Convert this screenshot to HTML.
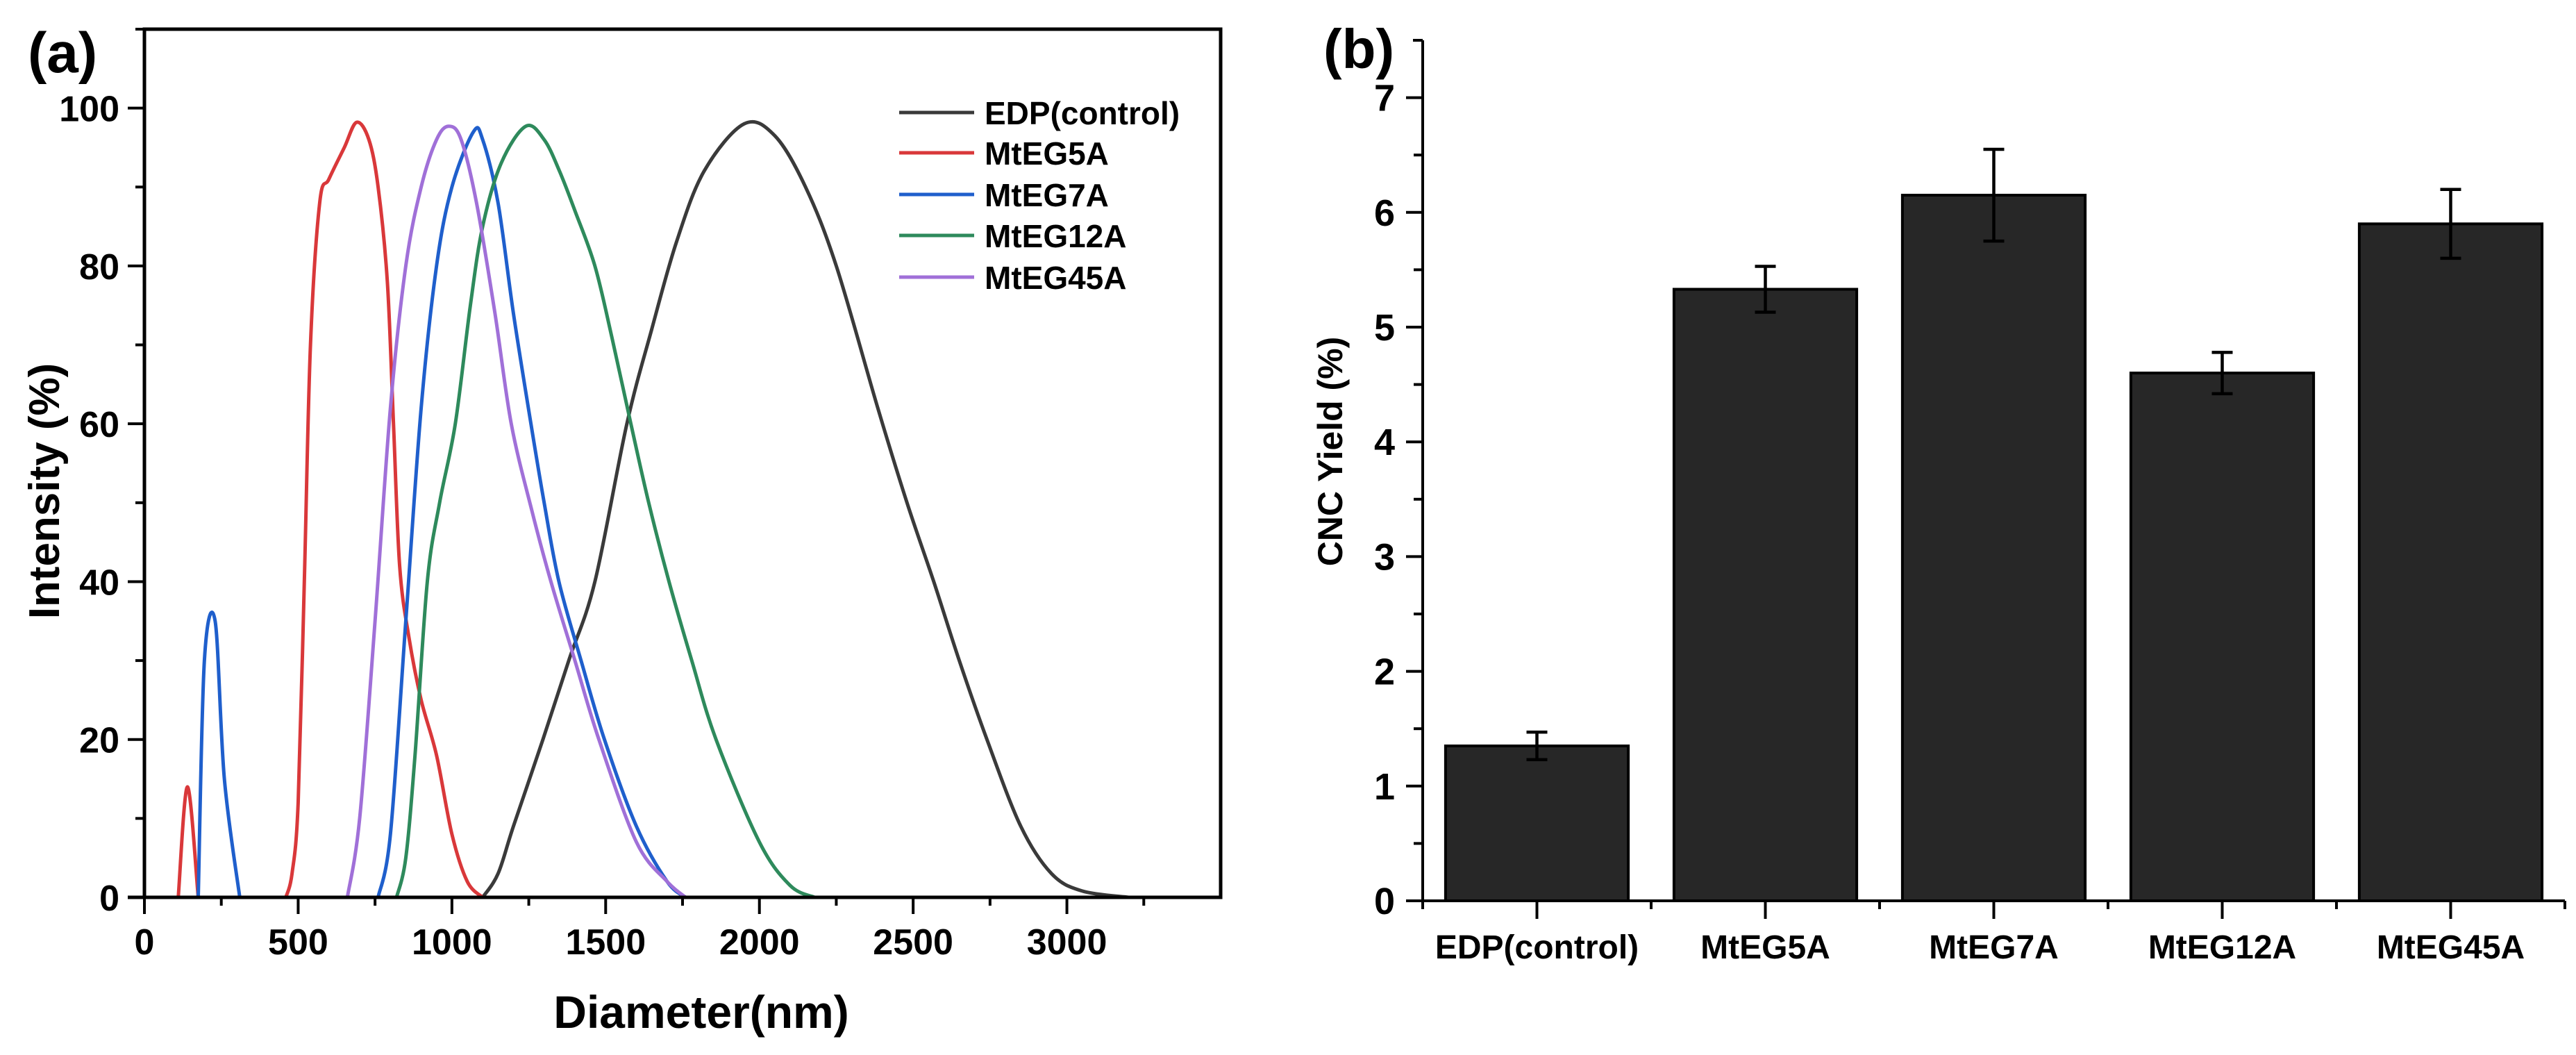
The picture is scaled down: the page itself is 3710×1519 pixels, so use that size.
<!DOCTYPE html>
<html><head><meta charset="utf-8">
<style>
html,body{margin:0;padding:0;background:#fff;}
svg{display:block;}
text{font-family:"Liberation Sans",Arial,sans-serif;font-weight:bold;fill:#000;}
</style></head>
<body>
<svg id="fig" width="3710" height="1519" viewBox="0 0 3710 1519" xmlns="http://www.w3.org/2000/svg">
  <g id="panelA"></g>
  <g id="panelB"></g>
</svg>
<script>
// ===== Panel (a) data =====
const seriesNames = ["EDP(control)","MtEG5A","MtEG7A","MtEG12A","MtEG45A"];
const seriesColors = ["#3a3a3a","#d9383a","#1f5fcc","#2e8a5c","#a070d8"];
const edpX = [1100,1150,1200,1296,1380,1465,1569,1650,1730,1820,1950,2050,2150,2250,2385,2480,2567,2650,2740,2850,2950,3050,3200];
const edpY = [0,3,9,20,30,40,60,72,83,92,98,96.5,90,80,62,50,40,30,20,9,3,0.8,0];
const eg5SpikeX = [110,140,175];
const eg5SpikeY = [0,14,0];
const eg5X = [460,480,500,520,540,570,600,650,690,730,760,790,810,830,860,900,950,1000,1050,1100];
const eg5Y = [0,3,12,40,70,88,91,95,98.2,96,90,78,60,42,33,25,18,8,2,0];
const eg7SpikeX = [175,195,230,260,310];
const eg7SpikeY = [0,30,35,15,0];
const eg7X = [760,800,850,900,950,1000,1070,1100,1150,1200,1257,1300,1348,1420,1496,1600,1700,1760];
const eg7Y = [0,8,35,62,80,90,97,96,88,74,60,50,40,30,20,9,2,0];
const eg12X = [820,850,880,920,960,1011,1060,1100,1160,1240,1300,1350,1400,1465,1520,1582,1640,1706,1780,1859,2000,2100,2180];
const eg12Y = [0,5,18,40,50,60,75,85,93,97.7,96,92,87,80,71,60,50,40,30,20,7,1.5,0];
const eg45X = [660,700,750,800,850,900,950,990,1030,1080,1140,1193,1260,1322,1400,1478,1600,1700,1760];
const eg45Y = [0,10,35,62,80,90,96,97.7,96,88,74,60,49,40,30,20,7,2,0];
const aXTicks = [0,500,1000,1500,2000,2500,3000];
const aYTicks = [0,20,40,60,80,100];

// ===== Panel (b) data =====
const categories = ["EDP(control)","MtEG5A","MtEG7A","MtEG12A","MtEG45A"];
const yieldValues = [1.35,5.33,6.15,4.60,5.90];
const yieldErrors = [0.12,0.20,0.40,0.18,0.30];
const bYTicks = [0,1,2,3,4,5,6,7];

const NS = "http://www.w3.org/2000/svg";
function mk(parent, tag, attrs, txt){
  const e = document.createElementNS(NS, tag);
  for (const k in attrs) e.setAttribute(k, attrs[k]);
  if (txt !== undefined) e.textContent = txt;
  parent.appendChild(e);
  return e;
}

// ---------- Panel A ----------
const A = document.getElementById('panelA');
const aL=208, aR=1758, aT=42, aB=1292;
const ax = v => aL + v*(aR-aL)/3500;
const ay = v => aB - v*(aB-aT)/110;

function smoothPath(xs, ys){
  const p = xs.map((x,i)=>[ax(x), ay(ys[i])]);
  let d = `M${p[0][0]},${p[0][1]}`;
  for (let i=0;i<p.length-1;i++){
    const p0=p[i-1]||p[i], p1=p[i], p2=p[i+1], p3=p[i+2]||p[i+1];
    let c1y = p1[1]+(p2[1]-p0[1])/6, c2y = p2[1]-(p3[1]-p1[1])/6;
    c1y = Math.min(c1y, aB); c2y = Math.min(c2y, aB);
    d += ` C${p1[0]+(p2[0]-p0[0])/6},${c1y} ${p2[0]-(p3[0]-p1[0])/6},${c2y} ${p2[0]},${p2[1]}`;
  }
  return d;
}

const curveDefs = [
  [edpX,edpY,0,"curve-edp-control"],
  [eg5SpikeX,eg5SpikeY,1,"curve-mteg5a-spike"],
  [eg5X,eg5Y,1,"curve-mteg5a"],
  [eg7SpikeX,eg7SpikeY,2,"curve-mteg7a-spike"],
  [eg7X,eg7Y,2,"curve-mteg7a"],
  [eg12X,eg12Y,3,"curve-mteg12a"],
  [eg45X,eg45Y,4,"curve-mteg45a"]
];
for (const [xs,ys,ci,name] of curveDefs){
  const pth = mk(A,'path',{d:smoothPath(xs,ys),fill:'none',stroke:seriesColors[ci],'stroke-width':5,'stroke-linejoin':'round'});
  
  
}

// frame
const frame = mk(A,'rect',{x:aL,y:aT,width:aR-aL,height:aB-aT,fill:'none',stroke:'#000','stroke-width':5});


mk(A,'line',{x1:aL-24,y1:aB,x2:aL,y2:aB,stroke:'#000','stroke-width':5});

// x ticks
for (let v=0; v<=3250; v+=250){
  const major = v%500===0;
  mk(A,'line',{x1:ax(v),y1:aB,x2:ax(v),y2:aB+(major?24:12),stroke:'#000','stroke-width':4});
}
for (const v of aXTicks){
  const t = mk(A,'text',{x:ax(v),y:aB+82,'text-anchor':'middle','font-size':52},String(v));
  
  
}
// y ticks
for (let v=0; v<=110; v+=10){
  const major = v%20===0;
  mk(A,'line',{x1:aL,y1:ay(v),x2:aL-(major?24:13),y2:ay(v),stroke:'#000','stroke-width':4});
}
for (const v of aYTicks){
  const t = mk(A,'text',{x:aL-36,y:ay(v)+19,'text-anchor':'end','font-size':52},String(v));
  
  
}
const xtA = mk(A,'text',{x:1010,y:1480,'text-anchor':'middle','font-size':66},'Diameter(nm)');


const ytA = mk(A,'text',{x:0,y:0,'text-anchor':'middle','font-size':62,transform:'translate(85,707) rotate(-90)'},'Intensity (%)');


const labA = mk(A,'text',{x:40,y:104,'font-size':82},'(a)');



// legend
const legRows = [162,220,280,339,399];
seriesNames.forEach((n,i)=>{
  const g = mk(A,'g',{});
  
  
  mk(g,'line',{x1:1295,y1:legRows[i],x2:1403,y2:legRows[i],stroke:seriesColors[i],'stroke-width':5});
  mk(g,'text',{x:1418,y:legRows[i]+17,'font-size':46},n);
});

// ---------- Panel B ----------
const B = document.getElementById('panelB');
const bL=2049, bB=1297, bT=58, step=329;
const bR = bL + step*categories.length;
const by = v => bB - v*(bB-bT)/7.5;
const bx = i => bL + step*(i+0.5);
const bw = step*0.8;

categories.forEach((c,i)=>{
  const r = mk(B,'rect',{x:bx(i)-bw/2,y:by(yieldValues[i]),width:bw,height:bB-by(yieldValues[i]),fill:'#272727',stroke:'#000','stroke-width':4});
  
  
});
categories.forEach((c,i)=>{
  const g = mk(B,'g',{stroke:'#000','stroke-width':4.5});
  
  
  const hi = by(yieldValues[i]+yieldErrors[i]), lo = by(yieldValues[i]-yieldErrors[i]);
  mk(g,'line',{x1:bx(i),y1:hi,x2:bx(i),y2:lo});
  mk(g,'line',{x1:bx(i)-15,y1:hi,x2:bx(i)+15,y2:hi});
  mk(g,'line',{x1:bx(i)-15,y1:lo,x2:bx(i)+15,y2:lo});
});
// axes
mk(B,'line',{x1:bL,y1:bT,x2:bL,y2:bB+4,stroke:'#000','stroke-width':4});
mk(B,'line',{x1:bL-22,y1:bB,x2:bR,y2:bB,stroke:'#000','stroke-width':4});
mk(B,'line',{x1:bL-14,y1:bT,x2:bL,y2:bT,stroke:'#000','stroke-width':4});
for (let v=0; v<=7.0001; v+=0.5){
  const major = Math.abs(v-Math.round(v))<1e-6;
  mk(B,'line',{x1:bL,y1:by(v),x2:bL-(major?24:13),y2:by(v),stroke:'#000','stroke-width':4});
}
for (const v of bYTicks){
  const t = mk(B,'text',{x:bL-40,y:by(v)+19,'text-anchor':'end','font-size':54},String(v));
  
  
}
for (let i=0;i<=categories.length;i++){
  mk(B,'line',{x1:bL+step*i,y1:bB,x2:bL+step*i,y2:bB+12,stroke:'#000','stroke-width':4});
}
categories.forEach((c,i)=>{
  mk(B,'line',{x1:bx(i),y1:bB,x2:bx(i),y2:bB+26,stroke:'#000','stroke-width':4});
  const t = mk(B,'text',{x:bx(i),y:1380,'text-anchor':'middle','font-size':48},c);
  
  
});
const ytB = mk(B,'text',{x:0,y:0,'text-anchor':'middle','font-size':50,transform:'translate(1933,650) rotate(-90)'},'CNC Yield (%)');


const labB = mk(B,'text',{x:1906,y:98,'font-size':80},'(b)');


</script>
</body></html>
